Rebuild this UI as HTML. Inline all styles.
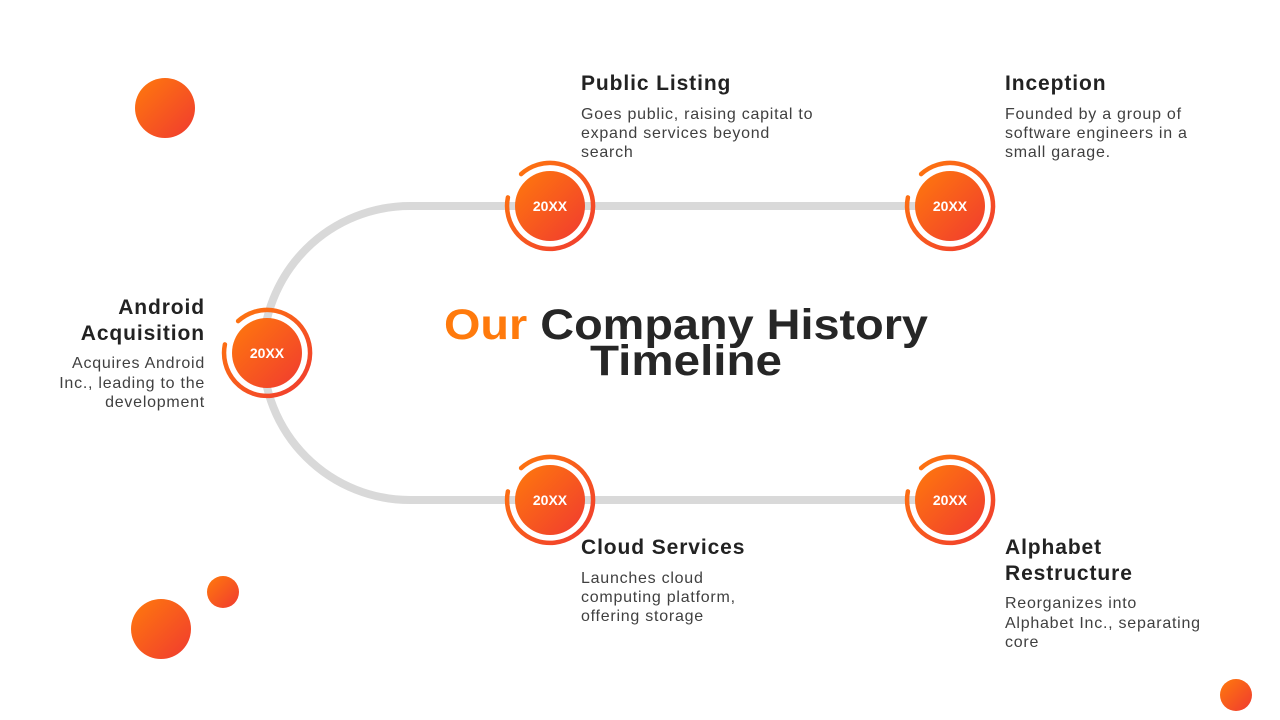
<!DOCTYPE html>
<html><head><meta charset="utf-8"><style>
html,body{margin:0;padding:0;background:#fff;}
svg{display:block;font-family:"Liberation Sans",sans-serif;}
.h{font-weight:bold;font-size:21px;fill:#222;letter-spacing:0.9px;}
.b{font-size:16px;fill:#404040;letter-spacing:0.75px;}
.y{font-weight:bold;font-size:14px;fill:#fff;}
</style></head><body>
<svg width="1280" height="720" viewBox="0 0 1280 720">
<defs>
<linearGradient id="g" x1="0" y1="0" x2="1" y2="1">
<stop offset="0" stop-color="#ff7a0c"/><stop offset="1" stop-color="#f03a30"/>
</linearGradient>
<g id="n">
<path d="M-28.9,-31.9 A43,43 0 1 1 -42.1,-8.6" fill="none" stroke="url(#g)" stroke-width="4.5" stroke-linecap="round"/>
<circle r="35" fill="url(#g)"/>
<text class="y" text-anchor="middle" y="5">20XX</text>
</g>
</defs>
<circle cx="165" cy="108" r="30" fill="url(#g)"/>
<circle cx="161" cy="629" r="30" fill="url(#g)"/>
<circle cx="223" cy="592" r="16" fill="url(#g)"/>
<circle cx="1236" cy="695" r="16" fill="url(#g)"/>
<path d="M950,206 L410,206 A147,147 0 0 0 410,500 L950,500" fill="none" stroke="#d9d9d9" stroke-width="8"/>
<use href="#n" x="550" y="206"/>
<use href="#n" x="950" y="206"/>
<use href="#n" x="267" y="353"/>
<use href="#n" x="550" y="500"/>
<use href="#n" x="950" y="500"/>
<text x="686" y="339" text-anchor="middle" font-weight="bold" font-size="43" fill="#262626" textLength="484" lengthAdjust="spacingAndGlyphs"><tspan fill="#ff7a0c">Our</tspan> Company History</text>
<text x="686" y="375" text-anchor="middle" font-weight="bold" font-size="43" fill="#262626" textLength="192" lengthAdjust="spacingAndGlyphs">Timeline</text>

<text class="h" x="581" y="90">Public  Listing</text>
<text class="b" x="581" y="119">Goes public, raising capital to</text>
<text class="b" x="581" y="138">expand services beyond</text>
<text class="b" x="581" y="157">search</text>

<text class="h" x="1005" y="90">Inception</text>
<text class="b" x="1005" y="119">Founded by a group of</text>
<text class="b" x="1005" y="138">software engineers in a</text>
<text class="b" x="1005" y="157">small garage.</text>

<text class="h" x="205" y="314" text-anchor="end">Android</text>
<text class="h" x="205" y="340" text-anchor="end">Acquisition</text>
<text class="b" x="205" y="368" text-anchor="end">Acquires Android</text>
<text class="b" x="205" y="388" text-anchor="end">Inc., leading to the</text>
<text class="b" x="205" y="407" text-anchor="end">development</text>

<text class="h" x="581" y="554">Cloud  Services</text>
<text class="b" x="581" y="583">Launches cloud</text>
<text class="b" x="581" y="602">computing platform,</text>
<text class="b" x="581" y="621">offering storage</text>

<text class="h" x="1005" y="554">Alphabet</text>
<text class="h" x="1005" y="580">Restructure</text>
<text class="b" x="1005" y="608">Reorganizes into</text>
<text class="b" x="1005" y="628">Alphabet Inc., separating</text>
<text class="b" x="1005" y="647">core</text>
</svg>
</body></html>
